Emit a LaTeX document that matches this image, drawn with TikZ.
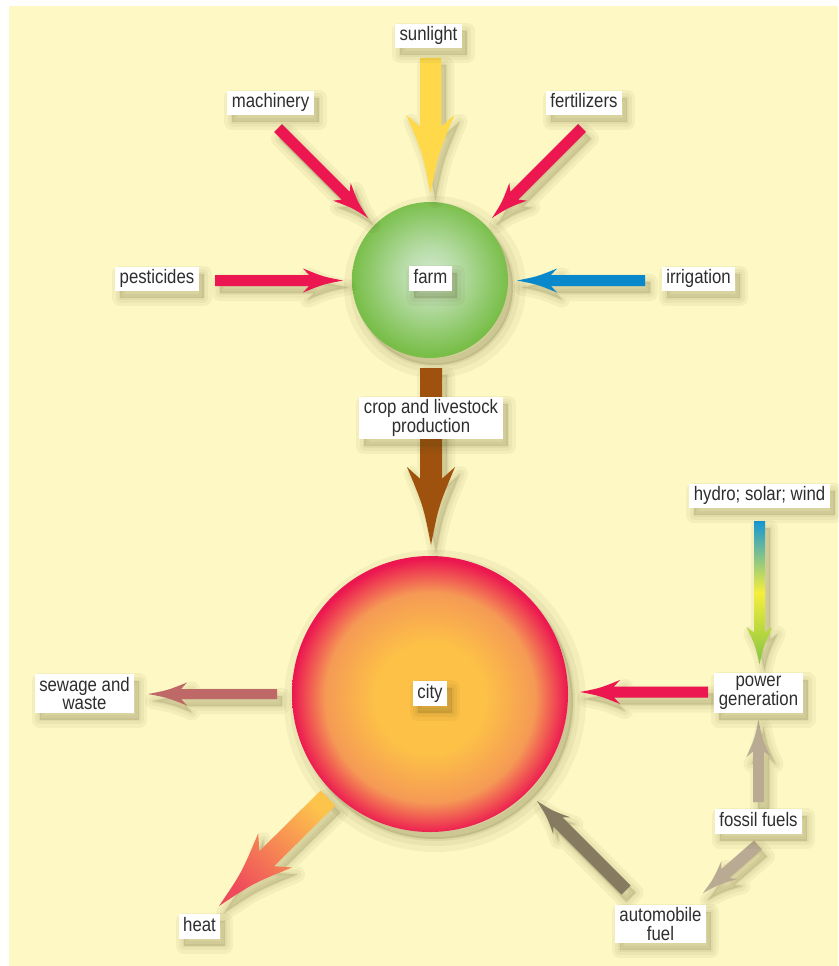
\documentclass[tikz,border=0pt]{standalone}
\usepackage{fontspec}
\setmainfont{Liberation Sans}[FakeStretch=0.86]
\usetikzlibrary{calc}

\definecolor{bgyellow}{HTML}{FDF8C4}
\definecolor{flowred}{HTML}{EC1651}
\definecolor{sunyellow}{HTML}{FFD94A}
\definecolor{waterblue}{HTML}{0A88CC}
\definecolor{cropbrown}{HTML}{9F520D}
\definecolor{fueltan}{HTML}{B9AB93}
\definecolor{fueldark}{HTML}{867A60}
\definecolor{sewagered}{HTML}{BF6868}
\definecolor{heattail}{HTML}{FDC44C}
\definecolor{heattip}{HTML}{EF4A5B}
\definecolor{hydroblue}{HTML}{1597D5}
\definecolor{hydroyellow}{HTML}{F5EE3D}
\definecolor{hydrogreen}{HTML}{84C441}
\definecolor{farmrim}{HTML}{78BE48}
\definecolor{farmcore}{HTML}{D2E9CF}
\definecolor{cityrim}{HTML}{EC1650}
\definecolor{citymid}{HTML}{F59A55}
\definecolor{citycore}{HTML}{FDC147}
\definecolor{labeltext}{HTML}{2E2E2E}
\definecolor{shade}{HTML}{4A4410}

\pgfdeclareradialshading{farmball}{\pgfpoint{0bp}{2bp}}{color(0bp)=(farmcore); color(9bp)=(farmcore!70!farmrim); color(25bp)=(farmrim); color(50bp)=(farmrim)}
\pgfdeclareradialshading{cityball}{\pgfpoint{0bp}{-1bp}}{color(0bp)=(citycore); color(10bp)=(citycore); color(19bp)=(citymid); color(23.5bp)=(cityrim!75!citymid); color(25bp)=(cityrim); color(50bp)=(cityrim)}

\tikzset{
  shadowlayer/.style 2 args={preaction={draw=shade, fill=shade, opacity=#2, line width=#1, line join=round,
      transform canvas={shift={(5pt,-7pt)}}}},
  softshadow/.style={shadowlayer={16pt}{0.05}, shadowlayer={9pt}{0.05}, shadowlayer={3pt}{0.06}},
  bigshadow/.style={shadowlayer={26pt}{0.05}, shadowlayer={14pt}{0.06}, shadowlayer={4pt}{0.07}},
  lbl/.style={fill=white, text=labeltext, inner xsep=4.5pt, inner ysep=3pt, font=\fontsize{19.5}{18.5}\selectfont, softshadow},
  lbl1/.style={lbl, text height=14pt, text depth=4.5pt},
  lbl2/.style={lbl, align=center},
  ball/.style={circle, inner sep=0pt, bigshadow}
}

% flow arrow: [style]{tail}{tip}{half shaft}{head length}{half head}
\newcommand\flow[6][]{%
  \coordinate (hb) at ($(#3)!#5!(#2)$);
  \coordinate (nk) at ($(#3)!0.85*#5!(#2)$);
  \coordinate (hm) at ($(#3)!0.5*#5!(#2)$);
  \path[softshadow,#1]
    ($(#2)!#4!90:(#3)$) -- ($(nk)!#4!90:(#3)$) -- ($(hb)!#6!90:(#3)$)
    .. controls ($(hm)!0.32*#6!90:(#3)$) .. (#3)
    .. controls ($(hm)!0.32*#6!-90:(#3)$) .. ($(hb)!#6!-90:(#3)$)
    -- ($(nk)!#4!-90:(#3)$) -- ($(#2)!#4!-90:(#3)$) -- cycle;
}

\begin{document}
\begin{tikzpicture}[x=1pt,y=-1pt]
  \useasboundingbox (0,0) rectangle (838,966);
  \fill[white] (0,0) rectangle (838,966);
  \fill[bgyellow] (9,6) rectangle (838,966);

  % the two places
  \node[ball, minimum size=156pt, shading=farmball] (farmball) at (430,280) {};
  \node[ball, minimum size=276pt, shading=cityball] (cityball) at (430,694) {};

  % arrow ends
  \coordinate (sun-a) at (430.5,58);   \coordinate (sun-b) at (430.5,193);
  \coordinate (mach-a) at (278,128);   \coordinate (mach-b) at (368,218);
  \coordinate (fert-a) at (582,128);   \coordinate (fert-b) at (492,218);
  \coordinate (pest-a) at (215,280.5); \coordinate (pest-b) at (343,280.5);
  \coordinate (irr-a) at (645,280.5);  \coordinate (irr-b) at (517,280.5);
  \coordinate (crop-a) at (431,368);   \coordinate (crop-b) at (431,545);
  \coordinate (hydro-a) at (759.5,521); \coordinate (hydro-b) at (759.5,664);
  \coordinate (power-a) at (708,692);  \coordinate (power-b) at (580,692);
  \coordinate (sew-a) at (277,694);    \coordinate (sew-b) at (148,694);
  \coordinate (heat-a) at (328,798);   \coordinate (heat-b) at (219,906);
  \coordinate (fosp-a) at (758.5,802); \coordinate (fosp-b) at (758.5,720);
  \coordinate (fosa-a) at (758,845);   \coordinate (fosa-b) at (703,893);
  \coordinate (auto-a) at (626,890);   \coordinate (auto-b) at (537,801);

  % flows
  \flow[fill=sunyellow]{sun-a}{sun-b}{10.5pt}{78pt}{24pt}
  \flow[fill=flowred]{mach-a}{mach-b}{5.5pt}{37pt}{12.5pt}
  \flow[fill=flowred]{fert-a}{fert-b}{5.5pt}{37pt}{12.5pt}
  \flow[fill=flowred]{pest-a}{pest-b}{5.5pt}{40pt}{12pt}
  \flow[fill=waterblue]{irr-a}{irr-b}{5.5pt}{40pt}{12pt}
  \flow[fill=cropbrown]{crop-a}{crop-b}{11pt}{78pt}{24pt}
  \flow[top color=hydroblue, bottom color=hydrogreen, middle color=hydroyellow]{hydro-a}{hydro-b}{5.5pt}{37pt}{13pt}
  \flow[fill=flowred]{power-a}{power-b}{5.5pt}{40pt}{12pt}
  \flow[fill=sewagered]{sew-a}{sew-b}{5pt}{39pt}{11.5pt}
  \flow[top color=heattail, bottom color=heattip, shading angle=-45]{heat-a}{heat-b}{10.5pt}{79pt}{24pt}
  \flow[fill=fueltan]{fosp-a}{fosp-b}{5.5pt}{37pt}{12pt}
  \flow[fill=fueltan]{fosa-a}{fosa-b}{6pt}{35pt}{12pt}
  \flow[fill=fueldark]{auto-a}{auto-b}{6.5pt}{35pt}{12pt}

  % labels
  \node[lbl1] (sunlight) at (428.5,36) {sunlight};
  \node[lbl1] (machinery) at (270.5,103) {machinery};
  \node[lbl1] (fertilizers) at (584,103) {fertilizers};
  \node[lbl1] (pesticides) at (157,279) {pesticides};
  \node[lbl1] (irrigation) at (698.5,279) {irrigation};
  \node[lbl1] (farm) at (430.5,278.5) {farm};
  \node[lbl2] (crop) at (431,418) {crop and livestock\\production};
  \node[lbl1] (hydro) at (759.5,496) {hydro; solar; wind};
  \node[lbl2] (power) at (758.5,693) {power\\generation};
  \node[lbl1] (city) at (430,693.5) {city};
  \node[lbl2] (sewage) at (84.5,693.5) {sewage and\\waste};
  \node[lbl1] (heat) at (199.5,926.5) {heat};
  \node[lbl1] (fossil) at (758.5,821.5) {fossil fuels};
  \node[lbl2] (auto) at (660.5,924) {automobile\\fuel};
\end{tikzpicture}
\end{document}
